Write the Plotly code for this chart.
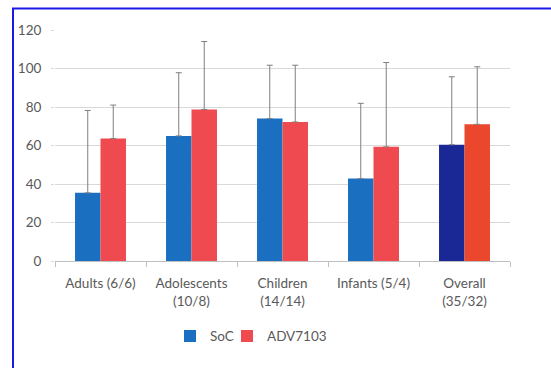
import plotly.graph_objects as go

categories = ["Adults (6/6)", "Adolescents<br>(10/8)", "Children<br>(14/14)", "Infants (5/4)", "Overall<br>(35/32)"]
soc_values = [35.4, 65.0, 74.0, 42.8, 60.4]
adv_values = [63.6, 78.7, 72.2, 59.3, 71.0]
soc_err_top = [78.2, 97.8, 101.7, 81.9, 95.7]
adv_err_top = [81.0, 114.0, 101.7, 103.1, 100.9]
soc_colors = ["#1b6fc0", "#1b6fc0", "#1b6fc0", "#1b6fc0", "#1a2896"]
adv_colors = ["#ee4a4f", "#ee4a4f", "#ee4a4f", "#ee4a4f", "#ea472c"]
y_ticks = [0, 20, 40, 60, 80, 100, 120]

soc_err = [t - v for t, v in zip(soc_err_top, soc_values)]
adv_err = [t - v for t, v in zip(adv_err_top, adv_values)]

err_style = dict(type="data", symmetric=False, arrayminus=[0]*5, color="#7f7f7f", thickness=1, width=3)

fig = go.Figure()
fig.add_trace(go.Bar(name="SoC", x=categories, y=soc_values, marker=dict(color=soc_colors, line=dict(width=0)),
                     error_y=dict(array=soc_err, **err_style), legend="legend"))
fig.add_trace(go.Bar(name="ADV7103", x=categories, y=adv_values, marker=dict(color=adv_colors, line=dict(width=0)),
                     error_y=dict(array=adv_err, **err_style), legend="legend2"))

L, R, T, B = 55, 41, 29.5, 106.5
W, H = 551, 368
pw, ph = W - L - R, H - T - B

leg_common = dict(orientation="h", xanchor="left", y=(T + ph - 337) / ph, yanchor="middle",
                  font=dict(size=13.5, color="#595959"), itemwidth=30, bgcolor="rgba(0,0,0,0)")

fig.update_layout(
    width=W, height=H,
    margin=dict(l=L, r=R, t=T, b=B, pad=0),
    paper_bgcolor="white", plot_bgcolor="white",
    barmode="group", bargap=0.44, bargroupgap=0,
    font=dict(family="Lato, Calibri, sans-serif", size=13.5, color="#595959"),
    showlegend=True,
    legend=dict(x=(170 - L) / pw, **leg_common),
    legend2=dict(x=(227 - L) / pw, **leg_common),
    xaxis=dict(showgrid=False, showline=True, linecolor="#bfbfbf", linewidth=1,
               ticks="outside", tickson="boundaries", ticklen=5, tickcolor="#bfbfbf",
               ticklabelstandoff=10,
               tickfont=dict(size=13.5, color="#595959")),
    yaxis=dict(range=[0, 120], tickvals=y_ticks, showgrid=True, gridcolor="#d9d9d9", gridwidth=1,
               zeroline=False, showline=False, ticks="outside", ticklen=3, tickcolor="#d9d9d9",
               ticklabelstandoff=7,
               tickfont=dict(size=13.5, color="#595959")),
    shapes=[dict(type="rect", xref="paper", yref="paper",
                 x0=(13 - L) / pw, x1=(W + 20 - L) / pw,
                 y0=(T + ph - (H + 20)) / ph, y1=(T + ph - 8) / ph,
                 line=dict(color="#1a1ae6", width=2), fillcolor="rgba(0,0,0,0)", layer="below")],
)

fig.write_html("out.html", config={"displayModeBar": False},
               post_script="document.body.style.margin='0';document.body.style.padding='0';")
